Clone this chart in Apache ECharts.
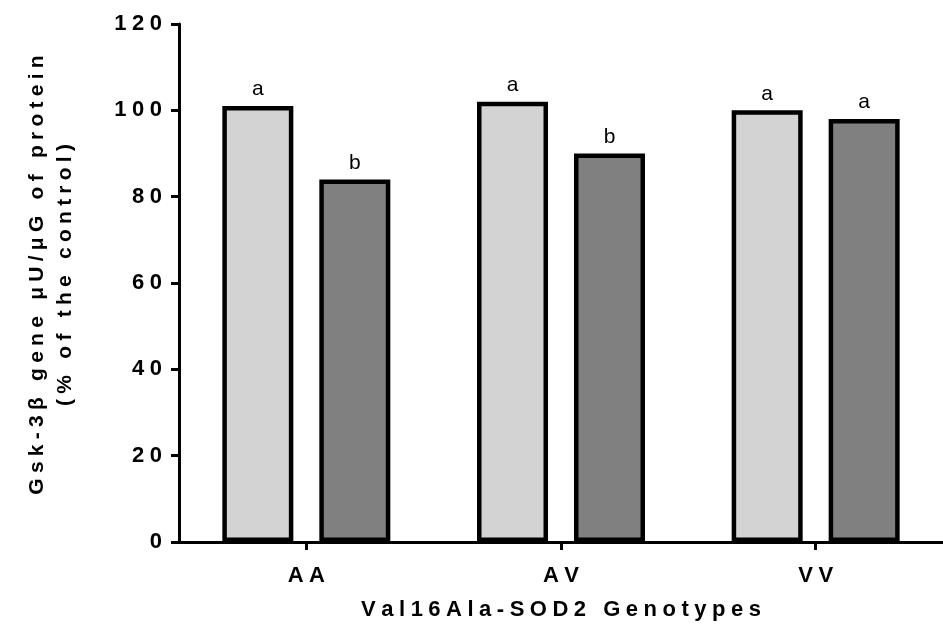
<!DOCTYPE html>
<html>
<head>
<meta charset="utf-8">
<script src="https://cdn.jsdelivr.net/npm/echarts@6/dist/echarts.min.js"></script>
<style>
  html, body { margin: 0; padding: 0; background: #fff; }
  #chart { width: 943px; height: 637px; }
</style>
</head>
<body>
<div id="chart"></div>
<script>
// Genotype groups and the two measured groups per genotype
const genotypes = ['AA', 'AV', 'VV'];
const lightValues = [101, 102, 100];
const darkValues = [84, 90, 98];
const lightLetters = ['a', 'a', 'a'];
const darkLetters = ['b', 'b', 'a'];
const yTicks = { min: 0, max: 120, step: 20 };

const yTitleLine1 = 'Gsk-3\u03B2 gene \u03BCU/\u03BCG of protein';
const yTitleLine2 = '(% of the control)';
const xTitle = 'Val16Ala-SOD2 Genotypes';

// Widely tracked lettering, as in the printed figure
const spaced = s => Array.from(s).join('\u2005');
const FONT = '"Liberation Sans", Arial, Helvetica, sans-serif';

const chart = echarts.init(document.getElementById('chart'), null, { renderer: 'canvas' });

const barStyle = (fill) => ({ color: fill, borderColor: '#000', borderWidth: 4.5 });
const letterLabel = (letters) => ({
  show: true,
  position: 'top',
  distance: 6,
  color: '#000',
  fontFamily: FONT,
  fontSize: 21,
  fontWeight: 'normal',
  formatter: p => letters[p.dataIndex]
});

chart.setOption({
  animation: false,
  backgroundColor: '#fff',
  grid: { left: 179, right: -12, top: 24, bottom: 95, containLabel: false },
  xAxis: {
    type: 'category',
    data: genotypes,
    name: spaced(xTitle),
    nameLocation: 'middle',
    nameGap: 57,
    nameTextStyle: { fontFamily: FONT, fontSize: 22, fontWeight: 'bold', color: '#000' },
    axisLine: { show: true, lineStyle: { color: '#000', width: 3 } },
    axisTick: { show: true, alignWithLabel: true, length: 8, lineStyle: { color: '#000', width: 3 } },
    axisLabel: {
      margin: 23,
      fontFamily: FONT, fontSize: 22, fontWeight: 'bold', color: '#000',
      formatter: v => spaced(v)
    },
    splitLine: { show: false }
  },
  yAxis: {
    type: 'value',
    min: yTicks.min,
    max: yTicks.max,
    interval: yTicks.step,
    name: spaced(yTitleLine1) + '\n' + spaced(yTitleLine2),
    nameLocation: 'middle',
    nameGap: 100,
    nameTextStyle: {
      fontFamily: FONT, fontSize: 21, fontWeight: 'bold', color: '#000',
      lineHeight: 28, align: 'center', padding: [0, 0, 0, 16]
    },
    axisLine: { show: true, lineStyle: { color: '#000', width: 3 } },
    axisTick: { show: true, length: 8, lineStyle: { color: '#000', width: 3 } },
    axisLabel: {
      margin: 17,
      fontFamily: FONT, fontSize: 22, fontWeight: 'bold', color: '#000',
      formatter: v => spaced(String(v))
    },
    splitLine: { show: false }
  },
  series: [
    {
      type: 'bar',
      data: lightValues,
      barWidth: 71,
      barGap: '36.6%',
      itemStyle: barStyle('#d3d3d3'),
      label: letterLabel(lightLetters)
    },
    {
      type: 'bar',
      data: darkValues,
      barWidth: 71,
      itemStyle: barStyle('#808080'),
      label: letterLabel(darkLetters)
    }
  ]
});
</script>
</body>
</html>
